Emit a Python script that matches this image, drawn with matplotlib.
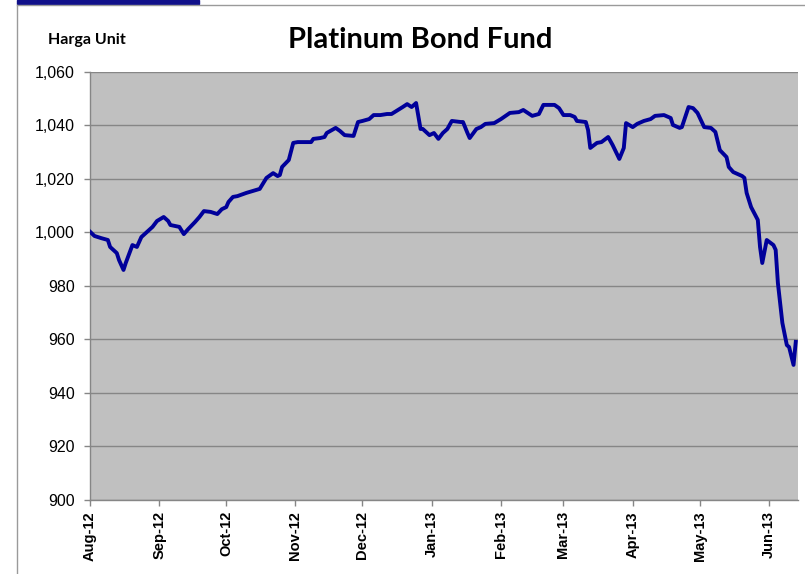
import matplotlib
matplotlib.use("Agg")
import matplotlib.pyplot as plt
import matplotlib.dates as mdates
from matplotlib.lines import Line2D
from matplotlib.patches import Rectangle
from matplotlib.ticker import FuncFormatter
import pandas as pd

# data
dates = ["2012-08-01", "2012-08-03", "2012-08-06", "2012-08-09", "2012-08-10", "2012-08-13",
         "2012-08-14", "2012-08-16", "2012-08-17", "2012-08-20", "2012-08-22", "2012-08-24",
         "2012-08-27", "2012-08-29", "2012-08-31", "2012-09-03", "2012-09-05", "2012-09-06",
         "2012-09-10", "2012-09-12", "2012-09-14", "2012-09-17", "2012-09-19", "2012-09-21",
         "2012-09-24", "2012-09-27", "2012-09-29", "2012-10-01", "2012-10-02", "2012-10-04",
         "2012-10-06", "2012-10-10", "2012-10-16", "2012-10-19", "2012-10-22", "2012-10-24",
         "2012-10-25", "2012-10-26", "2012-10-29", "2012-10-31", "2012-11-02", "2012-11-08",
         "2012-11-09", "2012-11-12", "2012-11-14", "2012-11-15", "2012-11-19", "2012-11-21",
         "2012-11-23", "2012-11-27", "2012-11-29", "2012-12-01", "2012-12-04", "2012-12-06",
         "2012-12-09", "2012-12-12", "2012-12-14", "2012-12-19", "2012-12-21", "2012-12-23",
         "2012-12-25", "2012-12-27", "2012-12-28", "2012-12-31", "2013-01-02", "2013-01-04",
         "2013-01-06", "2013-01-08", "2013-01-10", "2013-01-14", "2013-01-15", "2013-01-17",
         "2013-01-18", "2013-01-21", "2013-01-23", "2013-01-25", "2013-01-29", "2013-02-01",
         "2013-02-05", "2013-02-09", "2013-02-11", "2013-02-15", "2013-02-18", "2013-02-20",
         "2013-02-25", "2013-02-27", "2013-03-01", "2013-03-04", "2013-03-06", "2013-03-07",
         "2013-03-11", "2013-03-12", "2013-03-13", "2013-03-16", "2013-03-18", "2013-03-21",
         "2013-03-23", "2013-03-26", "2013-03-28", "2013-03-29", "2013-04-01", "2013-04-03",
         "2013-04-06", "2013-04-09", "2013-04-11", "2013-04-15", "2013-04-18", "2013-04-19",
         "2013-04-22", "2013-04-23", "2013-04-26", "2013-04-28", "2013-04-30", "2013-05-03",
         "2013-05-06", "2013-05-08", "2013-05-10", "2013-05-13", "2013-05-14", "2013-05-16",
         "2013-05-20", "2013-05-21", "2013-05-22", "2013-05-24", "2013-05-27", "2013-05-28",
         "2013-05-29", "2013-05-31", "2013-06-03", "2013-06-04", "2013-06-05", "2013-06-07",
         "2013-06-09", "2013-06-10", "2013-06-12", "2013-06-13"]

harga = [1000.3, 998.7, 997.9, 997.2, 994.6, 992.3,
         989.7, 986.0, 988.6, 995.3, 994.6, 998.3,
         1000.6, 1002.1, 1004.3, 1005.8, 1004.3, 1002.8,
         1002.1, 999.4, 1001.3, 1003.9, 1005.8, 1008.0,
         1007.7, 1006.9, 1008.7, 1009.5, 1011.4, 1013.3,
         1013.6, 1014.8, 1016.3, 1020.4, 1022.2, 1021.1,
         1021.5, 1024.5, 1027.1, 1033.5, 1033.8, 1033.8,
         1035.0, 1035.3, 1035.7, 1037.2, 1039.1, 1037.9,
         1036.4, 1036.1, 1041.3, 1041.7, 1042.4, 1043.9,
         1043.9, 1044.3, 1044.3, 1046.9, 1048.0, 1046.9,
         1048.4, 1038.7, 1038.7, 1036.4, 1037.2, 1035.0,
         1037.2, 1038.7, 1041.7, 1041.3, 1041.3, 1037.2,
         1035.3, 1038.7, 1039.4, 1040.6, 1040.9, 1042.4,
         1044.7, 1045.0, 1045.8, 1043.6, 1044.3, 1047.7,
         1047.7, 1046.5, 1043.9, 1043.9, 1043.2, 1041.7,
         1041.3, 1038.3, 1031.6, 1033.5, 1033.8, 1035.7,
         1032.7, 1027.5, 1031.6, 1040.9, 1039.4, 1040.6,
         1041.7, 1042.4, 1043.6, 1043.9, 1042.8, 1040.2,
         1039.1, 1039.4, 1046.9, 1046.5, 1044.7, 1039.4,
         1039.1, 1037.6, 1030.8, 1028.2, 1024.5, 1022.6,
         1021.1, 1020.4, 1014.8, 1009.5, 1004.7, 994.6,
         988.6, 997.2, 995.3, 993.5, 981.1, 966.2,
         957.9, 957.2, 950.5, 959.1]

x_start = "2012-08-01"
x_end = "2013-06-14"
y_ticks = [900, 920, 940, 960, 980, 1000, 1020, 1040, 1060]

grey = "#868686"
navy = "#00009A"

fig = plt.figure(figsize=(8.05, 5.74), dpi=100)
ax = fig.add_axes([90 / 805, 1 - 500 / 574, 708 / 805, 428 / 574])
ax.set_facecolor("#C0C0C0")

ax.plot(pd.to_datetime(dates), harga, color=navy, lw=2.8, solid_joinstyle="round", zorder=3)

ax.set_xlim(pd.Timestamp(x_start), pd.Timestamp(x_end))
ax.set_ylim(900, 1060)
ax.set_yticks(y_ticks)
ax.yaxis.set_major_formatter(FuncFormatter(lambda v, p: f"{v:,.0f}"))
ax.xaxis.set_major_locator(mdates.MonthLocator())
ax.xaxis.set_major_formatter(mdates.DateFormatter("%b-%y"))

ax.grid(axis="y", color=grey, lw=1)
ax.set_axisbelow(True)
for s in ["top", "right"]:
    ax.spines[s].set_visible(False)
for s in ["left", "bottom"]:
    ax.spines[s].set_color(grey)
    ax.spines[s].set_linewidth(1)

ax.tick_params(axis="both", colors=grey, length=4, width=1, labelcolor="black")
ax.tick_params(axis="y", pad=7, labelsize=11.5)
ax.tick_params(axis="x", pad=4, labelsize=10.5, labelrotation=90)
for t in ax.get_yticklabels():
    t.set_family("Liberation Sans")
for t in ax.get_xticklabels():
    t.set_family("Liberation Sans")
    t.set_weight("bold")

fig.text(420 / 805, 1 - 40 / 574, "Platinum Bond Fund", family="Lato", weight="bold",
         fontsize=21, ha="center", va="center")
fig.text(48 / 805, 1 - 40 / 574, "Harga Unit", family="Lato", weight="bold",
         fontsize=11.5, ha="left", va="center")

# outer frame and blue bar
fig.add_artist(Line2D([17 / 805, 17 / 805], [0, 1 - 5 / 574], color="#9A9A9A", lw=1))
fig.add_artist(Line2D([17 / 805, 804 / 805], [1 - 5 / 574, 1 - 5 / 574], color="#9A9A9A", lw=1))
fig.add_artist(Rectangle((17 / 805, 1 - 3.5 / 574), 182 / 805, 3.5 / 574,
                         color="#10108A", transform=fig.transFigure))

fig.savefig("out.png", dpi=100)
